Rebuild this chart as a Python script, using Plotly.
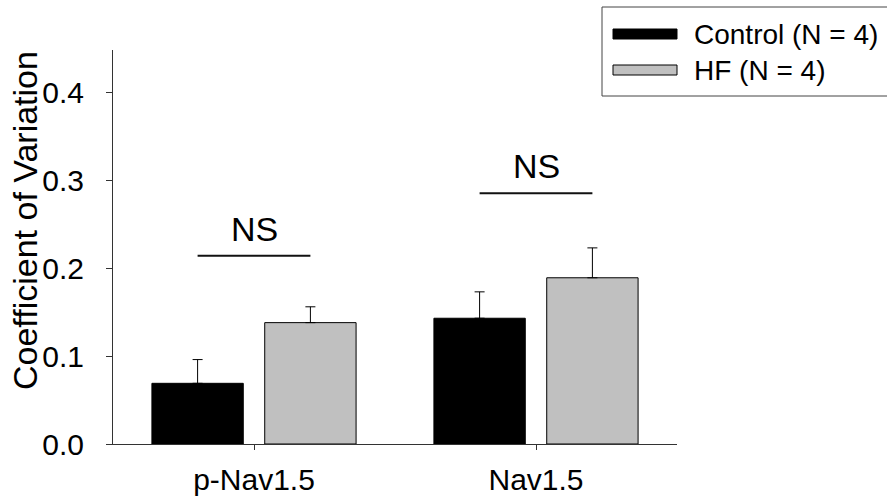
import plotly.graph_objects as go

categories = ["p-Nav1.5", "Nav1.5"]
control_values = [0.069, 0.143]
control_err = [0.027, 0.030]
hf_values = [0.138, 0.189]
hf_err = [0.018, 0.034]
series_names = ["Control (N = 4)", "HF (N = 4)"]
ns_labels = ["NS", "NS"]
ns_levels = [0.214, 0.285]
y_ticks = [0.0, 0.1, 0.2, 0.3, 0.4]

W, H = 887, 500
L, R, T, B = 113, 210, 50, 56
pw, ph = W - L - R, H - T - B

def px_x(p):
    return (p - L) / pw

def px_y(p):
    return (H - B - p) / ph

FONT = "Liberation Sans, Arial, sans-serif"

fig = go.Figure()
fig.add_trace(go.Bar(
    x=categories, y=control_values, name=series_names[0],
    marker=dict(color="#000000", line=dict(color="#000000", width=1)),
    error_y=dict(type="data", symmetric=False, array=control_err,
                 arrayminus=[0] * len(control_err), color="#000000",
                 thickness=1, width=5),
))
fig.add_trace(go.Bar(
    x=categories, y=hf_values, name=series_names[1],
    marker=dict(color="#c0c0c0", line=dict(color="#000000", width=1)),
    error_y=dict(type="data", symmetric=False, array=hf_err,
                 arrayminus=[0] * len(hf_err), color="#000000",
                 thickness=1, width=5),
))

shapes = []
annotations = []
for i, (lab, lev) in enumerate(zip(ns_labels, ns_levels)):
    shapes.append(dict(type="line", xref="x", yref="y", x0=i - 0.2, x1=i + 0.2,
                       y0=lev, y1=lev, line=dict(color="#111111", width=2)))
    annotations.append(dict(x=i, y=lev, xref="x", yref="y", text=lab,
                            showarrow=False, yanchor="middle", yshift=27,
                            font=dict(family=FONT, size=34, color="#000000")))

# y-axis title
annotations.append(dict(x=px_x(25), y=px_y(221), xref="paper", yref="paper",
                        text="Coefficient of Variation", textangle=-90,
                        showarrow=False, xanchor="center", yanchor="middle",
                        font=dict(family=FONT, size=34, color="#000000")))

# custom legend
shapes.append(dict(type="rect", xref="paper", yref="paper",
                   x0=px_x(602), x1=px_x(900), y0=px_y(96), y1=px_y(7),
                   line=dict(color="#444444", width=1), fillcolor="rgba(0,0,0,0)"))
legend_colors = ["#000000", "#c0c0c0"]
legend_rows = [34, 70]
for name, col, cy in zip(series_names, legend_colors, legend_rows):
    shapes.append(dict(type="rect", xref="paper", yref="paper",
                       x0=px_x(613), x1=px_x(677), y0=px_y(cy + 5), y1=px_y(cy - 5),
                       line=dict(color="#000000", width=1), fillcolor=col))
    annotations.append(dict(x=px_x(692), y=px_y(cy), xref="paper", yref="paper",
                            text=name, showarrow=False, xanchor="left",
                            yanchor="middle",
                            font=dict(family=FONT, size=28, color="#000000")))

fig.update_layout(
    width=W, height=H,
    margin=dict(l=L, r=R, t=T, b=B, pad=0, autoexpand=False),
    paper_bgcolor="white", plot_bgcolor="white",
    barmode="group", bargap=0.2, bargroupgap=0.19,
    showlegend=False,
    font=dict(family=FONT, size=30, color="#000000"),
    shapes=shapes, annotations=annotations,
)
fig.update_xaxes(
    type="category", range=[-0.5, 1.5], automargin=False,
    showline=True, linecolor="#333333", linewidth=1,
    ticks="outside", ticklen=5, tickcolor="#333333", tickwidth=1,
    showgrid=False, zeroline=False,
    tickfont=dict(family=FONT, size=30, color="#000000"),
    ticklabelstandoff=4,
)
fig.update_yaxes(
    range=[0, 0.448], tickvals=y_ticks, tickformat=".1f", automargin=False,
    showline=True, linecolor="#333333", linewidth=1,
    ticks="outside", ticklen=6, tickcolor="#333333", tickwidth=1,
    showgrid=False, zeroline=False,
    tickfont=dict(family=FONT, size=30, color="#000000"),
    ticklabelstandoff=16,
)

fig.write_html("out.html")
